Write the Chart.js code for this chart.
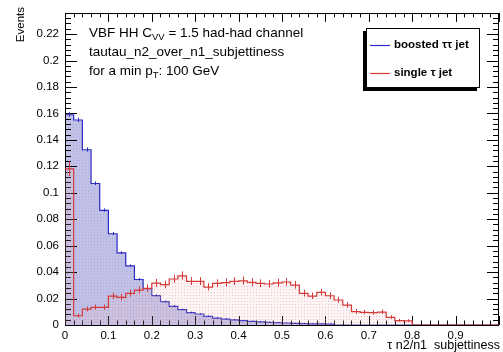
<!DOCTYPE html>
<html>
<head>
<meta charset="utf-8">
<script src="https://cdn.jsdelivr.net/npm/chart.js@4.4.0/dist/chart.umd.min.js"></script>
<style>
  html, body { margin: 0; padding: 0; background: #fff; }
  #wrap { width: 503px; height: 352px; position: relative; }
</style>
</head>
<body>
<div id="wrap"><canvas id="c" width="503" height="352"></canvas></div>
<script>
// binning of the tau n2/n1 subjettiness histograms
const xMin = 0, xMax = 1, nBins = 50;
const yMax = 0.236;

// boosted tautau jet (blue), normalised
const boostedValues = [
  0.159, 0.155, 0.1325, 0.107, 0.0867, 0.069, 0.0545, 0.0447, 0.0344, 0.0275,
  0.0222, 0.0176, 0.0141, 0.0116, 0.0093, 0.0083, 0.0065, 0.0052, 0.0045, 0.0038,
  0.0033, 0.0028, 0.0023, 0.0020, 0.0018, 0.0015, 0.0012, 0.0010, 0.0008, 0.0008,
  0.0006, 0, 0, 0, 0, 0, 0, 0, 0, 0,
  0, 0, 0, 0, 0, 0, 0, 0, 0, 0
];
const boostedErrors = [
  0.0015, 0.0015, 0.0014, 0.0012, 0.0011, 0.0010, 0.0009, 0.0008, 0.0007, 0.0006,
  0.0006, 0.0005, 0.0005, 0.0004, 0.0004, 0.0003, 0.0003, 0.0003, 0.0003, 0.0002,
  0.0002, 0.0002, 0.0002, 0.0002, 0.0002, 0.0001, 0.0001, 0.0001, 0.0001, 0.0001,
  0.0001, 0, 0, 0, 0, 0, 0, 0, 0, 0,
  0, 0, 0, 0, 0, 0, 0, 0, 0, 0
];

// single tau jet (red), normalised
const singleValues = [
  0.118, 0.007, 0.012, 0.0133, 0.0133, 0.0219, 0.0209, 0.0239, 0.0264, 0.0277,
  0.0316, 0.0305, 0.0348, 0.0372, 0.0330, 0.0330, 0.0287, 0.0314, 0.0320, 0.0330,
  0.0334, 0.0322, 0.0314, 0.0310, 0.0318, 0.0325, 0.0302, 0.0239, 0.0219, 0.0246,
  0.0221, 0.0189, 0.0151, 0.0101, 0.0096, 0.0093, 0.0098, 0.0058, 0.0033, 0.0031,
  0, 0, 0, 0, 0, 0, 0, 0, 0, 0
];
const singleErrors = [
  0.0054, 0.0013, 0.0017, 0.0018, 0.0018, 0.0023, 0.0023, 0.0024, 0.0025, 0.0026,
  0.0028, 0.0027, 0.0029, 0.0030, 0.0028, 0.0028, 0.0026, 0.0028, 0.0028, 0.0028,
  0.0029, 0.0028, 0.0028, 0.0027, 0.0028, 0.0028, 0.0027, 0.0024, 0.0023, 0.0024,
  0.0023, 0.0021, 0.0019, 0.0016, 0.0015, 0.0015, 0.0015, 0.0012, 0.0009, 0.0009,
  0, 0, 0, 0, 0, 0, 0, 0, 0, 0
];

const seriesLabels = ["boosted \u03c4\u03c4 jet", "single \u03c4 jet"];
const seriesColors = ["#2b2bc0", "#d43a3a"];
const xTickLabels = ["0", "0.1", "0.2", "0.3", "0.4", "0.5", "0.6", "0.7", "0.8", "0.9"];
const yTickLabels = ["0", "0.02", "0.04", "0.06", "0.08", "0.1", "0.12", "0.14", "0.16", "0.18", "0.2", "0.22"];
const xTitle = "\u03c4 n2/n1  subjettiness";
const yTitle = "Events";
// each line: list of [text, isSubscript]
const infoLines = [
  [["VBF HH C", false], ["VV", true], [" = 1.5 had-had channel", false]],
  [["tautau_n2_over_n1_subjettiness", false]],
  [["for a min p", false], ["T", true], [": 100 GeV", false]]
];

const FONT = "'Liberation Sans', Arial, Helvetica, sans-serif";
Chart.defaults.font.family = FONT;

// turn bin contents into left-edge points for a stepped line
function histPoints(values) {
  const w = (xMax - xMin) / nBins;
  const pts = values.map((v, i) => ({ x: xMin + i * w, y: v }));
  pts.push({ x: xMax, y: values[values.length - 1] });
  return pts;
}

function makePattern(base, dot) {
  const p = document.createElement("canvas");
  p.width = 3; p.height = 3;
  const g = p.getContext("2d");
  g.fillStyle = base;
  g.fillRect(0, 0, 3, 3);
  if (dot) {
    g.fillStyle = dot;
    g.fillRect(1, 1, 1, 1);
  }
  return g.createPattern(p, "repeat");
}

const blueFill = makePattern("rgba(118,118,205,0.45)", "rgba(90,90,190,0.18)");
const redFill = makePattern("rgba(240,190,190,0.16)", "rgba(220,120,120,0.38)");

// frame and inward ticks, ROOT style, on all four sides
function drawFrame(chart) {
  const ctx = chart.ctx;
  const a = chart.chartArea;
  const xs = chart.scales.x, ys = chart.scales.y;
  ctx.save();
  ctx.strokeStyle = "#000";
  ctx.lineWidth = 1;
  ctx.strokeRect(Math.round(a.left) + 0.5, Math.round(a.top) + 0.5,
    Math.round(a.right - a.left) - 1, Math.round(a.bottom - a.top));
  ctx.beginPath();
  for (let i = 0; i <= 50; i++) {
    const v = xMin + i * 0.02;
    const px = Math.round(xs.getPixelForValue(v)) + 0.5;
    const len = i % 5 === 0 ? 9 : 4.5;
    ctx.moveTo(px, a.bottom); ctx.lineTo(px, a.bottom - len);
    ctx.moveTo(px, a.top); ctx.lineTo(px, a.top + len);
  }
  for (let i = 0; ; i++) {
    const v = i * 0.004;
    if (v > yMax) break;
    const py = Math.round(ys.getPixelForValue(v)) + 0.5;
    const len = i % 5 === 0 ? 12 : 6;
    ctx.moveTo(a.left, py); ctx.lineTo(a.left + len, py);
    ctx.moveTo(a.right, py); ctx.lineTo(a.right - len, py);
  }
  ctx.stroke();
  ctx.restore();
}

function drawErrors(chart, vals, errs, color) {
  const ctx = chart.ctx;
  const xs = chart.scales.x, ys = chart.scales.y;
  const w = (xMax - xMin) / nBins;
  ctx.save();
  ctx.strokeStyle = color;
  ctx.lineWidth = 1;
  ctx.beginPath();
  vals.forEach((v, i) => {
    if (v <= 0) return;
    const px = Math.round(xs.getPixelForValue(xMin + (i + 0.5) * w)) + 0.5;
    ctx.moveTo(px, ys.getPixelForValue(v - errs[i]));
    ctx.lineTo(px, ys.getPixelForValue(v + errs[i]) - 0.5);
  });
  ctx.stroke();
  ctx.restore();
}

const rootPlugin = {
  id: "rootStyle",
  afterDatasetDraw(chart, args) {
    // axes go over the first histogram, under the second
    if (args.index === 1) drawFrame(chart);
  },
  afterDatasetsDraw(chart) {
    drawErrors(chart, boostedValues, boostedErrors, seriesColors[0]);
    drawErrors(chart, singleValues, singleErrors, seriesColors[1]);
  },
  afterDraw(chart) {
    const ctx = chart.ctx;
    ctx.save();
    ctx.fillStyle = "#000";

    // info text
    const size = 13.5;
    infoLines.forEach((parts, li) => {
      let cx = 89;
      const y = 37 + li * 19;
      parts.forEach(([t, sub]) => {
        ctx.font = (sub ? 9.5 : size) + "px " + FONT;
        ctx.fillText(t, cx, sub ? y + 3 : y);
        cx += ctx.measureText(t).width;
      });
    });

    // axis titles
    ctx.font = "12.5px " + FONT;
    ctx.textAlign = "right";
    ctx.textBaseline = "middle";
    ctx.fillText(xTitle, 500, 346);
    ctx.font = "11.5px " + FONT;
    ctx.save();
    ctx.translate(21, 7);
    ctx.rotate(-Math.PI / 2);
    ctx.fillText(yTitle, 0, 0);
    ctx.restore();

    // legend box with shadow
    const bx = 366, by = 28, bw = 114, bh = 60;
    ctx.fillStyle = "#000";
    ctx.fillRect(bx - 3, by + 3, bw, bh);
    ctx.fillStyle = "#fff";
    ctx.fillRect(bx, by, bw, bh);
    ctx.strokeStyle = "#000";
    ctx.lineWidth = 1;
    ctx.strokeRect(bx + 0.5, by + 0.5, bw - 1, bh - 1);
    ctx.textAlign = "left";
    ctx.font = "bold 11.5px " + FONT;
    seriesLabels.forEach((label, i) => {
      const ly = 45 + i * 28;
      ctx.strokeStyle = seriesColors[i];
      ctx.lineWidth = 1.2;
      ctx.beginPath();
      ctx.moveTo(370, ly + 0.5); ctx.lineTo(390, ly + 0.5);
      ctx.stroke();
      ctx.fillStyle = "#000";
      ctx.fillText(label, 394, ly);
    });
    ctx.restore();
  }
};

new Chart(document.getElementById("c"), {
  type: "line",
  data: {
    datasets: [
      {
        label: seriesLabels[1],
        data: histPoints(singleValues),
        stepped: true,
        borderColor: seriesColors[1],
        borderWidth: 1.2,
        backgroundColor: redFill,
        fill: "origin",
        pointRadius: 0
      },
      {
        label: seriesLabels[0],
        data: histPoints(boostedValues),
        stepped: true,
        borderColor: seriesColors[0],
        borderWidth: 1.2,
        backgroundColor: blueFill,
        fill: "origin",
        pointRadius: 0
      }
    ]
  },
  options: {
    responsive: false,
    animation: false,
    layout: { padding: { left: 0, top: 12, right: 1, bottom: 0 } },
    plugins: { legend: { display: false }, tooltip: { enabled: false } },
    scales: {
      x: {
        type: "linear",
        min: xMin,
        max: xMax,
        afterFit: (s) => { s.height = 27; },
        grid: { display: false, drawTicks: false },
        border: { display: false },
        ticks: {
          stepSize: 0.1,
          includeBounds: false,
          autoSkip: false,
          maxRotation: 0,
          padding: 4,
          color: "#000",
          font: { size: 11.5 },
          callback: (v, i) => xTickLabels[i] ?? ""
        }
      },
      y: {
        min: 0,
        max: yMax,
        afterFit: (s) => { s.width = 65; },
        grid: { display: false, drawTicks: false },
        border: { display: false },
        ticks: {
          stepSize: 0.02,
          includeBounds: false,
          autoSkip: false,
          padding: 6,
          color: "#000",
          font: { size: 11.5 },
          callback: (v, i) => yTickLabels[i] ?? ""
        }
      }
    }
  },
  plugins: [rootPlugin]
});
</script>
</body>
</html>
